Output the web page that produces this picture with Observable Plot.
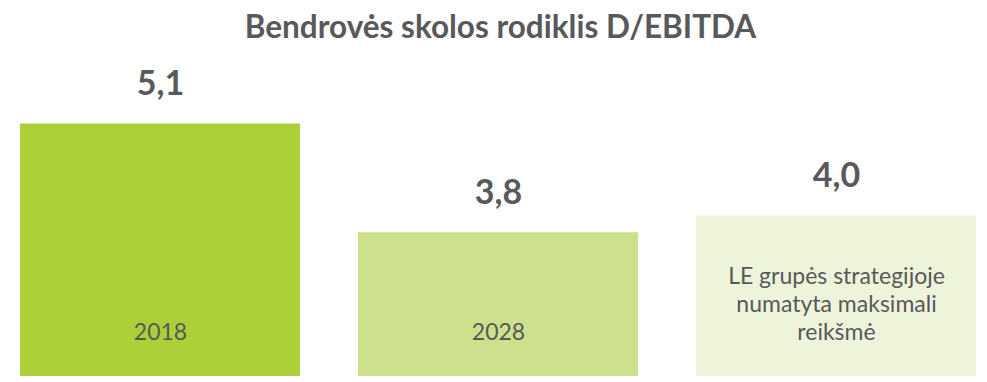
<!DOCTYPE html>
<html>
<head>
<meta charset="utf-8">
<script src="https://cdn.jsdelivr.net/npm/d3@7"></script>
<script src="https://cdn.jsdelivr.net/npm/@observablehq/plot@0.6"></script>
<style>
  html, body { margin: 0; padding: 0; background: #fff; }
  #title { height: 50px; box-sizing: border-box; padding-top: 8px; padding-left: 14px; text-align: center;
           font-family: Lato, "Open Sans", sans-serif; font-weight: 700; font-size: 31.5px; color: #58595b; line-height: 36px; }
</style>
</head>
<body>
<div id="title">Bendrovės skolos rodiklis D/EBITDA</div>
<div id="chart"></div>
<script>
const categories = ["2018", "2028", "LE grupės strategijoje\nnumatyta maksimali\nreikšmė"];
const values = [5.1, 3.8, 4.0];
const valueLabels = ["5,1", "3,8", "4,0"];
const colors = ["#acd037", "#cde08b", "#eef4da"];

const data = categories.map((c, i) => ({cat: c, value: values[i], label: valueLabels[i], color: colors[i]}));

const chart = Plot.plot({
  width: 987,
  height: 332,
  marginTop: 0,
  marginBottom: 6,
  marginLeft: 0,
  marginRight: 0,
  x: {domain: categories, range: [20, 976], paddingInner: 0.172, paddingOuter: 0, axis: null},
  y: {domain: [2.08, 5.9], range: [326, 6.6], axis: null},
  style: {fontFamily: "Lato, 'Open Sans', sans-serif"},
  marks: [
    Plot.barY(data, {x: "cat", y1: 2.08, y2: "value", fill: d => d.color}),
    Plot.text(data, {x: "cat", y: "value", text: "label", dy: -29, lineAnchor: "bottom",
      fill: "#58595b", fontSize: 34, fontWeight: 700}),
    Plot.text(data, {x: "cat", frameAnchor: "bottom", text: "cat", dy: -37, lineAnchor: "bottom",
      lineHeight: 1.2, fill: "#58595b", fontSize: 23, fontWeight: 400})
  ]
});
document.getElementById("chart").appendChild(chart);
</script>
</body>
</html>
